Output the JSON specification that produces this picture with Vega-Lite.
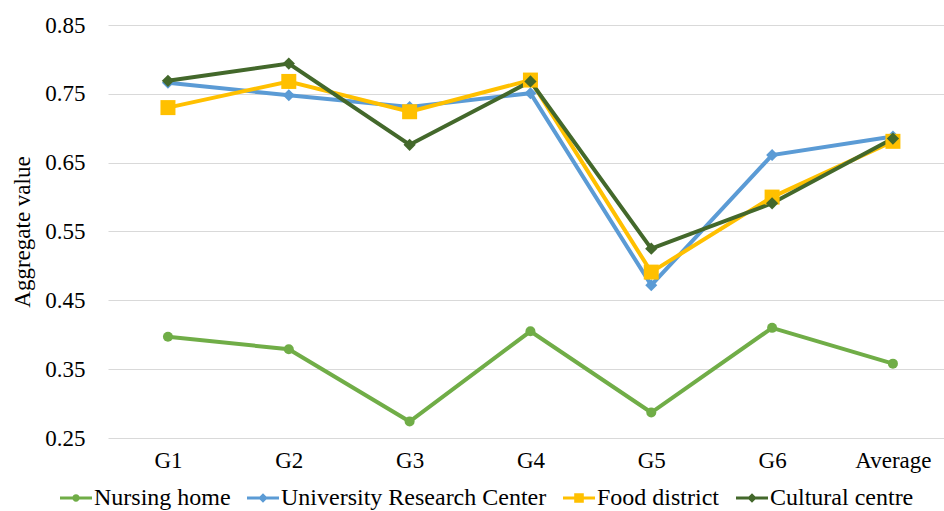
{
  "$schema": "https://vega.github.io/schema/vega-lite/v6.json",
  "width": 836,
  "height": 413,
  "autosize": {"type": "none"},
  "padding": {"left": 108, "top": 25, "right": 0, "bottom": 73},
  "background": "white",
  "config": {"font": "Liberation Serif", "view": {"stroke": null},
    "axis": {"labelFont": "Liberation Serif", "titleFont": "Liberation Serif"},
    "legend": {"labelFont": "Liberation Serif"}},
  "data": {"values": [
    {"group": "G1", "series": "Nursing home", "value": 0.397},
    {"group": "G2", "series": "Nursing home", "value": 0.379},
    {"group": "G3", "series": "Nursing home", "value": 0.274},
    {"group": "G4", "series": "Nursing home", "value": 0.405},
    {"group": "G5", "series": "Nursing home", "value": 0.287},
    {"group": "G6", "series": "Nursing home", "value": 0.410},
    {"group": "Average", "series": "Nursing home", "value": 0.358},
    {"group": "G1", "series": "University Research Center", "value": 0.766},
    {"group": "G2", "series": "University Research Center", "value": 0.748},
    {"group": "G3", "series": "University Research Center", "value": 0.731},
    {"group": "G4", "series": "University Research Center", "value": 0.751},
    {"group": "G5", "series": "University Research Center", "value": 0.472},
    {"group": "G6", "series": "University Research Center", "value": 0.661},
    {"group": "Average", "series": "University Research Center", "value": 0.688},
    {"group": "G1", "series": "Food district", "value": 0.730},
    {"group": "G2", "series": "Food district", "value": 0.768},
    {"group": "G3", "series": "Food district", "value": 0.724},
    {"group": "G4", "series": "Food district", "value": 0.770},
    {"group": "G5", "series": "Food district", "value": 0.491},
    {"group": "G6", "series": "Food district", "value": 0.600},
    {"group": "Average", "series": "Food district", "value": 0.681},
    {"group": "G1", "series": "Cultural centre", "value": 0.769},
    {"group": "G2", "series": "Cultural centre", "value": 0.794},
    {"group": "G3", "series": "Cultural centre", "value": 0.676},
    {"group": "G4", "series": "Cultural centre", "value": 0.768},
    {"group": "G5", "series": "Cultural centre", "value": 0.525},
    {"group": "G6", "series": "Cultural centre", "value": 0.591},
    {"group": "Average", "series": "Cultural centre", "value": 0.685}
  ]},
  "encoding": {
    "x": {
      "field": "group", "type": "ordinal",
      "sort": ["G1", "G2", "G3", "G4", "G5", "G6", "Average"],
      "scale": {"type": "point", "padding": 0.4595, "align": 0.54},
      "axis": {"title": null, "labelAngle": 0, "labelFont": "Liberation Serif", "labelFontSize": 23, "labelColor": "black", "labelPadding": 11, "ticks": false, "domain": false, "grid": false}
    },
    "y": {
      "field": "value", "type": "quantitative",
      "scale": {"domain": [0.25, 0.85], "zero": false, "nice": false},
      "axis": {"values": [0.25, 0.35, 0.45, 0.55, 0.65, 0.75, 0.85], "format": ".2f", "title": "Aggregate value",
        "titleFont": "Liberation Serif", "titleFontSize": 23, "titleFontWeight": "normal", "titleColor": "black", "titlePadding": 10,
        "labelFont": "Liberation Serif", "labelFontSize": 23, "labelColor": "black", "labelPadding": 23, "ticks": false, "domain": false,
        "grid": true, "gridColor": "#D9D9D9", "gridWidth": 1}
    },
    "color": {
      "field": "series", "type": "nominal",
      "scale": {"domain": ["Nursing home", "University Research Center", "Food district", "Cultural centre"],
        "range": ["#70AD47", "#5B9BD5", "#FFC000", "#43682B"]},
      "legend": {
        "orient": "none", "legendX": -48, "legendY": 457, "direction": "horizontal", "title": null,
        "labelFont": "Liberation Serif", "labelFontSize": 24, "labelColor": "black", "labelLimit": 500, "symbolSize": 1024, "symbolType": "M-1,-0.1H1V0.1H-1Z",
        "symbolStrokeWidth": 0, "labelOffset": 2, "columnPadding": 16,
        "encode": {
          "labels": {"update": {"font": {"value": "Liberation Serif"}}},
          "symbols": {"update": {
          "shape": {"signal": "datum.value === 'Nursing home' ? 'M-1,-0.1H1V0.1H-1Z M-0.23,0 A0.23,0.23 0 1,1 0.23,0 A0.23,0.23 0 1,1 -0.23,0Z' : datum.value === 'Food district' ? 'M-1,-0.1H1V0.1H-1Z M-0.3,-0.3H0.3V0.3H-0.3Z' : 'M-1,-0.1H1V0.1H-1Z M0,-0.3L0.3,0L0,0.3L-0.3,0Z'"},
          "fill": {"scale": "color", "field": "value"},
          "size": {"value": 1024},
          "strokeWidth": {"value": 0},
          "opacity": {"value": 1}
        }}}
      }
    }
  },
  "layer": [
    {"mark": {"type": "line", "strokeWidth": 4}},
    {
      "transform": [{"filter": "datum.series === 'Nursing home'"}],
      "mark": {"type": "point", "shape": "circle", "filled": true, "opacity": 1, "size": 100}
    },
    {
      "transform": [{"filter": "datum.series === 'University Research Center'"}],
      "mark": {"type": "point", "shape": "diamond", "filled": true, "opacity": 1, "size": 144}
    },
    {
      "transform": [{"filter": "datum.series === 'Food district'"}],
      "mark": {"type": "point", "shape": "square", "filled": true, "opacity": 1, "size": 225}
    },
    {
      "transform": [{"filter": "datum.series === 'Cultural centre'"}],
      "mark": {"type": "point", "shape": "diamond", "filled": true, "opacity": 1, "size": 150}
    }
  ]
}
